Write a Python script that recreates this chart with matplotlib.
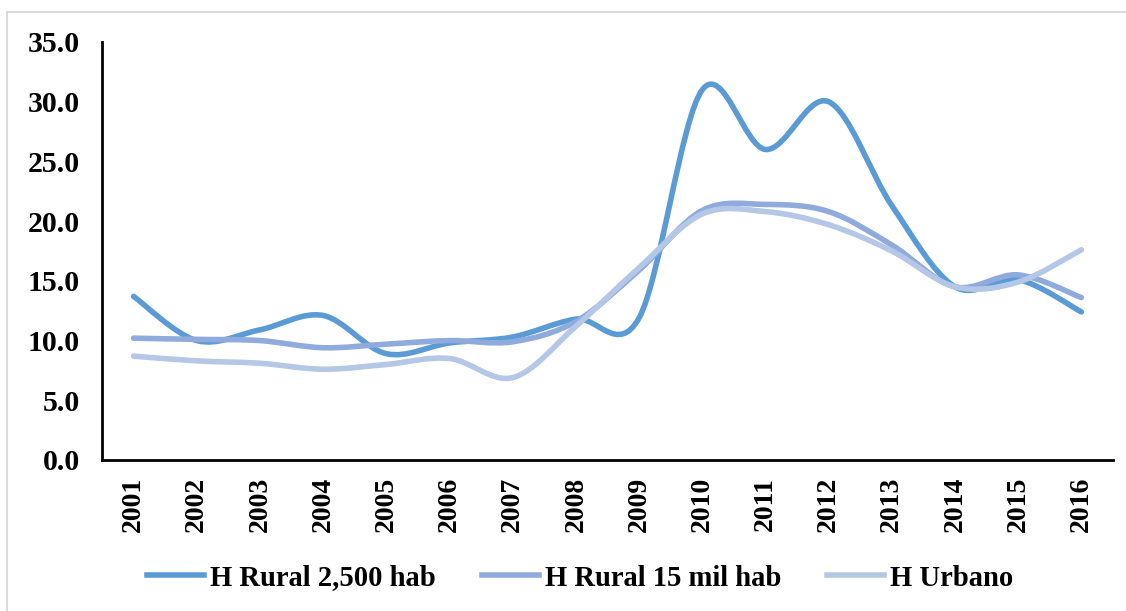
import matplotlib.pyplot as plt
import numpy as np
from matplotlib.path import Path
from matplotlib.patches import PathPatch, Rectangle
from matplotlib.lines import Line2D

anios = ['2001', '2002', '2003', '2004', '2005', '2006', '2007', '2008',
         '2009', '2010', '2011', '2012', '2013', '2014', '2015', '2016']
rural_2500 = [13.7, 10.0, 10.9, 12.1, 8.9, 9.8, 10.3, 11.8,
              11.9, 31.0, 26.0, 30.0, 21.3, 14.5, 15.1, 12.4]
rural_15mil = [10.2, 10.1, 10.0, 9.4, 9.7, 10.0, 9.9, 11.6,
               15.9, 20.9, 21.4, 20.8, 18.0, 14.5, 15.5, 13.6]
urbano = [8.7, 8.3, 8.1, 7.6, 8.0, 8.5, 6.9, 11.2,
          16.1, 20.6, 20.8, 19.7, 17.5, 14.5, 14.9, 17.6]

series = [('H Rural 2,500 hab', rural_2500, '#5B9BD5'),
          ('H Rural 15 mil hab', rural_15mil, '#8FAADC'),
          ('H Urbano', urbano, '#B4C7E7')]

plt.rcParams['font.family'] = ['Liberation Serif', 'DejaVu Serif']
plt.rcParams['font.weight'] = 'bold'


def curva_suave(x, y):
    # linea suavizada tipo excel (bezier catmull-rom)
    p = np.column_stack([x, y]).astype(float)
    verts = [p[0]]
    codes = [Path.MOVETO]
    n = len(p)
    for i in range(n - 1):
        p0 = p[i - 1] if i > 0 else p[i]
        p3 = p[i + 2] if i + 2 < n else p[i + 1]
        c1 = p[i] + (p[i + 1] - p0) / 6
        c2 = p[i + 1] - (p3 - p[i]) / 6
        verts += [c1, c2, p[i + 1]]
        codes += [Path.CURVE4] * 3
    return Path(verts, codes)


fig = plt.figure(figsize=(11.26, 6.11), dpi=100)
ax = fig.add_axes([102 / 1126, 1 - 460 / 611, (1113 - 102) / 1126, (460 - 42) / 611])

x = np.arange(len(anios))
handles = []
for nombre, valores, color in series:
    patch = PathPatch(curva_suave(x, valores), facecolor='none', edgecolor=color,
                      lw=4, capstyle='round', joinstyle='round')
    ax.add_patch(patch)
    handles.append(Line2D([], [], color=color, lw=4, label=nombre))

ax.set_xlim(-0.5, len(anios) - 0.5)
ax.set_ylim(0, 35)
ax.set_yticks(np.arange(0, 36, 5))
ax.set_yticklabels([f'{v:.1f}' for v in np.arange(0, 36, 5)], fontsize=21.5, fontweight='bold')
ax.set_xticks(x)
ax.set_xticklabels(anios, rotation=90, fontsize=20, fontweight='bold')
ax.tick_params(length=0, pad=12)
ax.tick_params(axis='y', pad=16)
for s in ['top', 'right']:
    ax.spines[s].set_visible(False)
ax.spines['left'].set_linewidth(2)
ax.spines['bottom'].set_linewidth(2)

fig.legend(handles=handles, loc='center', bbox_to_anchor=(580 / 1126, 1 - 578 / 611),
           ncol=3, frameon=False, handlelength=2.0, handletextpad=0.2,
           columnspacing=1.6, prop={'weight': 'bold', 'size': 20.6})

# marco gris del grafico
fig.patches.append(Rectangle((7 / 1126, -0.1), 1.2, 1 - 12 / 611 + 0.1,
                             transform=fig.transFigure, fill=False,
                             edgecolor='#D9D9D9', lw=1.5))

fig.savefig('out.png', dpi=100)
